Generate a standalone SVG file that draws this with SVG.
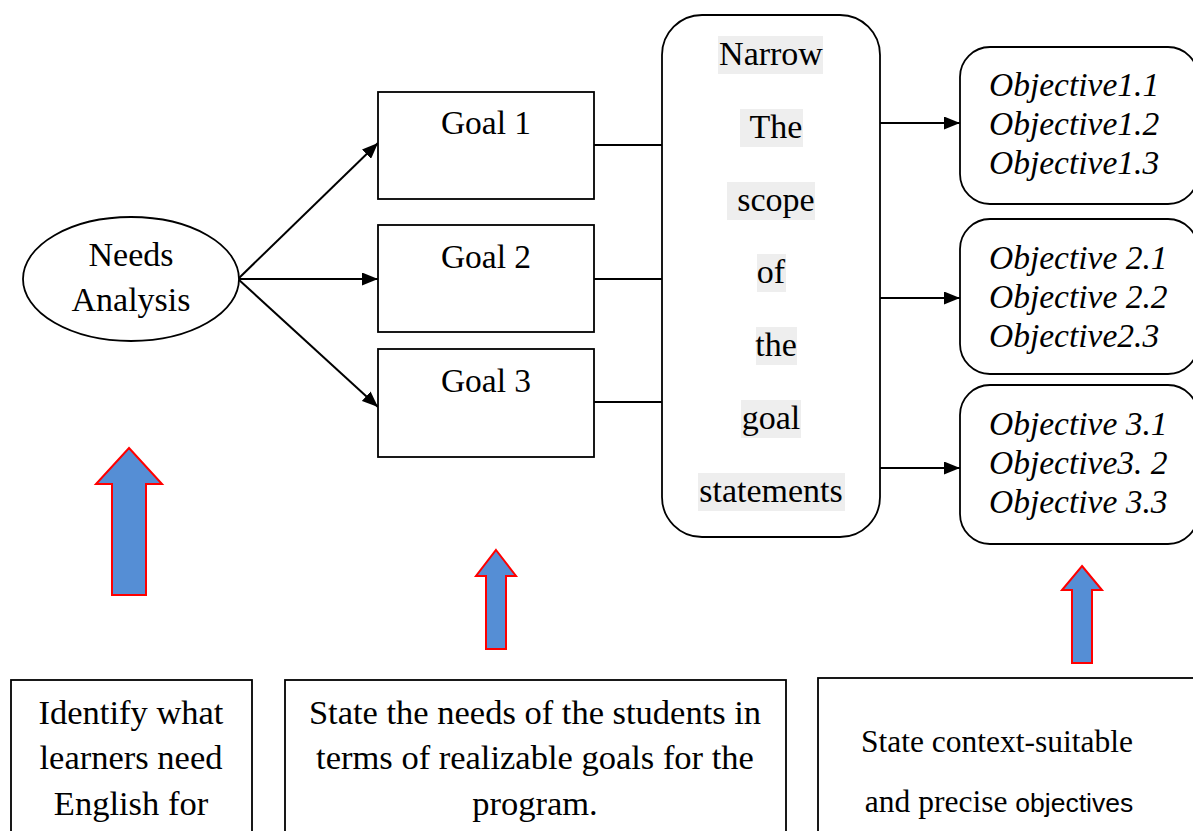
<svg xmlns="http://www.w3.org/2000/svg" width="1193" height="831" viewBox="0 0 1193 831">
  <defs>
    <marker id="arrowhead" viewBox="0 0 16 13" refX="16" refY="6.5" markerWidth="16" markerHeight="13" markerUnits="userSpaceOnUse" orient="auto">
      <path d="M0,0 L16,6.5 L0,13 Z" fill="#000"/>
    </marker>
    <style>
      .box { fill: #fff; stroke: #000; stroke-width: 1.8; }
      .serif { font-family: "Liberation Serif", "Times New Roman", serif; fill: #000; }
      .sans { font-family: "Liberation Sans", Arial, sans-serif; fill: #000; }
      .ital { font-style: italic; }
      .wire { stroke: #000; stroke-width: 1.8; fill: none; }
      .arrow { stroke: #000; stroke-width: 2; fill: none; marker-end: url(#arrowhead); }
      .hl { fill: #eeeeee; }
      .block { fill: #558ed5; stroke: #ff0000; stroke-width: 2; stroke-linejoin: miter; }
    </style>
  </defs>

  <rect width="1193" height="831" fill="#fff"/>

  <!-- connectors -->
  <g id="connectors">
    <line class="arrow" x1="238" y1="279" x2="378" y2="143"/>
    <line class="arrow" x1="238" y1="279" x2="378" y2="279"/>
    <line class="arrow" x1="238" y1="279" x2="378" y2="407"/>
    <line class="wire" x1="594" y1="145" x2="662" y2="145"/>
    <line class="wire" x1="594" y1="279" x2="662" y2="279"/>
    <line class="wire" x1="594" y1="402" x2="662" y2="402"/>
    <line class="arrow" x1="877" y1="123" x2="960" y2="123"/>
    <line class="arrow" x1="877" y1="298" x2="960" y2="298"/>
    <line class="arrow" x1="877" y1="468" x2="960" y2="468"/>
  </g>

  <!-- needs analysis -->
  <g id="needs-analysis">
    <ellipse class="box" cx="131" cy="279" rx="108" ry="62"/>
    <text class="serif" x="131" y="266" font-size="34" text-anchor="middle">Needs</text>
    <text class="serif" x="131" y="311" font-size="34" text-anchor="middle">Analysis</text>
  </g>

  <!-- goals -->
  <g id="goal-1">
    <rect class="box" x="378" y="92" width="216" height="107"/>
    <text class="serif" x="486" y="134" font-size="33.5" text-anchor="middle">Goal 1</text>
  </g>
  <g id="goal-2">
    <rect class="box" x="378" y="225" width="216" height="107"/>
    <text class="serif" x="486" y="268" font-size="33.5" text-anchor="middle">Goal 2</text>
  </g>
  <g id="goal-3">
    <rect class="box" x="378" y="349" width="216" height="108"/>
    <text class="serif" x="486" y="392" font-size="33.5" text-anchor="middle">Goal 3</text>
  </g>

  <!-- narrowing step -->
  <g id="narrow-scope">
    <rect class="box" x="662" y="15" width="218" height="522" rx="40" ry="40"/>
    <rect class="hl" x="718" y="36" width="105" height="38"/>
    <rect class="hl" x="740" y="109" width="63" height="38"/>
    <rect class="hl" x="727" y="182" width="88" height="38"/>
    <rect class="hl" x="757" y="254" width="29" height="38"/>
    <rect class="hl" x="756" y="327" width="41" height="38"/>
    <rect class="hl" x="741" y="400" width="60" height="38"/>
    <rect class="hl" x="698" y="473" width="147" height="38"/>
    <g class="serif" font-size="34" text-anchor="middle">
      <text x="771" y="65">Narrow</text>
      <text x="776" y="138">The</text>
      <text x="776" y="211">scope</text>
      <text x="771" y="283">of</text>
      <text x="776" y="356">the</text>
      <text x="771" y="429">goal</text>
      <text x="771" y="502">statements</text>
    </g>
  </g>

  <!-- objectives -->
  <g id="objectives-1">
    <rect class="box" x="960" y="47" width="238" height="157" rx="30" ry="30"/>
    <g class="serif ital" font-size="33.5">
      <text x="989" y="96">Objective1.1</text>
      <text x="989" y="135">Objective1.2</text>
      <text x="989" y="174">Objective1.3</text>
    </g>
  </g>
  <g id="objectives-2">
    <rect class="box" x="960" y="219" width="238" height="155" rx="30" ry="30"/>
    <g class="serif ital" font-size="33.5">
      <text x="989" y="269">Objective 2.1</text>
      <text x="989" y="308">Objective 2.2</text>
      <text x="989" y="347">Objective2.3</text>
    </g>
  </g>
  <g id="objectives-3">
    <rect class="box" x="960" y="385" width="238" height="159" rx="30" ry="30"/>
    <g class="serif ital" font-size="33.5">
      <text x="989" y="435">Objective 3.1</text>
      <text x="989" y="474">Objective3. 2</text>
      <text x="989" y="513">Objective 3.3</text>
    </g>
  </g>

  <!-- upward block arrows -->
  <g id="up-arrow-1">
    <polygon class="block" points="129,448 162,484 146,484 146,595 112,595 112,484 96,484"/>
  </g>
  <g id="up-arrow-2">
    <polygon class="block" points="496,550 516,576 506,576 506,649 486,649 486,576 476,576"/>
  </g>
  <g id="up-arrow-3">
    <polygon class="block" points="1082,566 1102,590 1092,590 1092,663 1072,663 1072,590 1062,590"/>
  </g>

  <!-- step descriptions -->
  <g id="desc-needs">
    <rect class="box" x="11" y="680" width="241" height="170"/>
    <g class="serif" font-size="34.5" text-anchor="middle">
      <text x="131" y="724">Identify what</text>
      <text x="131" y="769">learners need</text>
      <text x="131" y="815">English for</text>
    </g>
  </g>
  <g id="desc-goals">
    <rect class="box" x="285" y="680" width="501" height="170"/>
    <g class="serif" font-size="34.5" text-anchor="middle">
      <text x="535" y="724">State the needs of the students in</text>
      <text x="535" y="769">terms of realizable goals for the</text>
      <text x="535" y="815">program.</text>
    </g>
  </g>
  <g id="desc-objectives">
    <rect class="box" x="818" y="678" width="390" height="172"/>
    <text class="serif" x="997" y="752" font-size="31.5" text-anchor="middle">State context-suitable</text>
    <text x="999" y="812" text-anchor="middle"><tspan class="serif" font-size="31.5">and precise </tspan><tspan class="sans" font-size="26.5">objectives</tspan></text>
  </g>
</svg>
